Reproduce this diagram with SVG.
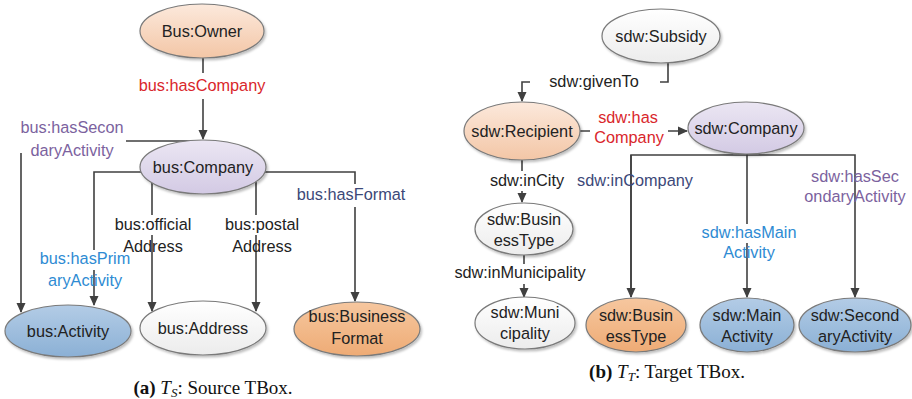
<svg xmlns="http://www.w3.org/2000/svg" width="912" height="399" viewBox="0 0 912 399">
<defs>
<linearGradient id="gPeach" x1="0" y1="0" x2="0" y2="1"><stop offset="0" stop-color="#fce9dc"/><stop offset="1" stop-color="#f3c6a6"/></linearGradient>
<linearGradient id="gLav" x1="0" y1="0" x2="0" y2="1"><stop offset="0" stop-color="#ebe6f3"/><stop offset="1" stop-color="#d3cae4"/></linearGradient>
<linearGradient id="gBlue" x1="0" y1="0" x2="0" y2="1"><stop offset="0" stop-color="#b3cce6"/><stop offset="1" stop-color="#8bb0d5"/></linearGradient>
<linearGradient id="gOrange" x1="0" y1="0" x2="0" y2="1"><stop offset="0" stop-color="#f6c79f"/><stop offset="1" stop-color="#eeab75"/></linearGradient>
<linearGradient id="gWhite" x1="0" y1="0" x2="0" y2="1"><stop offset="0" stop-color="#ffffff"/><stop offset="1" stop-color="#ececec"/></linearGradient>
<filter id="sh" x="-10%" y="-10%" width="125%" height="130%"><feDropShadow dx="1.5" dy="2" stdDeviation="1.2" flood-color="#000" flood-opacity="0.25"/></filter>
<marker id="arr" markerWidth="10" markerHeight="10" refX="9" refY="5" orient="auto" markerUnits="userSpaceOnUse"><path d="M0,0.5 L10,5 L0,9.5 Z" fill="#404040"/></marker>
<style>
.node ellipse{stroke:#7a7a7a;stroke-width:1.2;filter:url(#sh)}
.nt{font-family:"Liberation Sans",Arial,sans-serif;font-size:16.3px;text-anchor:middle;fill:#222}
.lbl{font-family:"Liberation Sans",Arial,sans-serif;font-size:16.3px;text-anchor:middle}
.k{fill:#222}.red{fill:#d9262b}.pur{fill:#7b629e}.blu{fill:#2e8bd3}.dbl{fill:#3c4878}
.c path{fill:none;stroke:#404040;stroke-width:1.6}
.bg{fill:#fff}
.cap{font-family:"Liberation Serif","Times New Roman",serif;font-size:19px;text-anchor:middle;fill:#111}
</style>
</defs>
<rect width="912" height="399" fill="#fff"/>

<g class="c" id="connectors">
<path d="M203,58 V139" marker-end="url(#arr)"/>
<path d="M190,141 H21 V312" marker-end="url(#arr)"/>
<path d="M141,172 H94 V305" marker-end="url(#arr)"/>
<path d="M152,183 V311" marker-end="url(#arr)"/>
<path d="M256,182 V311" marker-end="url(#arr)"/>
<path d="M265,172 H355 V301" marker-end="url(#arr)"/>
<path d="M668,63 V82 H522 V101" marker-end="url(#arr)"/>
<path d="M580,131 H687" marker-end="url(#arr)"/>
<path d="M522,160 V202" marker-end="url(#arr)"/>
<path d="M524,255 V297" marker-end="url(#arr)"/>
<path d="M747,154 V155"/>
<path d="M631,297 V155 H855 V297" marker-end="url(#arr)"/>
<path d="M747,155 V297" marker-end="url(#arr)"/>
<path d="M631,155 V297" marker-end="url(#arr)"/>
</g>

<g id="labels">
<rect class="bg" x="134" y="73" width="136" height="26"/>
<text class="lbl red" x="202" y="91">bus:hasCompany</text>
<rect class="bg" x="16" y="117" width="110" height="36"/>
<text class="lbl pur" x="72" y="133">bus:hasSecon</text>
<text class="lbl pur" x="72" y="156">daryActivity</text>
<rect class="bg" x="36" y="250" width="98" height="20"/>
<text class="lbl blu" x="85" y="264">bus:hasPrim</text>
<text class="lbl blu" x="85" y="286">aryActivity</text>
<rect class="bg" x="109" y="215" width="88" height="20"/>
<text class="lbl k" x="153" y="230">bus:official</text>
<text class="lbl k" x="153" y="252">Address</text>
<rect class="bg" x="221" y="215" width="83" height="20"/>
<text class="lbl k" x="262" y="230">bus:postal</text>
<text class="lbl k" x="262" y="252">Address</text>
<rect class="bg" x="293" y="184" width="117" height="23"/>
<text class="lbl dbl" x="351" y="200">bus:hasFormat</text>

<rect class="bg" x="530" y="72" width="130" height="20"/>
<text class="lbl k" x="594" y="87">sdw:givenTo</text>
<rect class="bg" x="590" y="108" width="78" height="42"/>
<text class="lbl red" x="628" y="123">sdw:has</text>
<text class="lbl red" x="629" y="143">Company</text>
<rect class="bg" x="486" y="171" width="82" height="20"/>
<text class="lbl k" x="527" y="186">sdw:inCity</text>
<text class="lbl dbl" x="635" y="186">sdw:inCompany</text>
<rect class="bg" x="700" y="224" width="99" height="19"/>
<text class="lbl blu" x="749" y="238">sdw:hasMain</text>
<text class="lbl blu" x="749" y="258">Activity</text>
<text class="lbl pur" x="855" y="182">sdw:hasSec</text>
<text class="lbl pur" x="855" y="202">ondaryActivity</text>
<rect class="bg" x="450" y="264" width="140" height="20"/>
<text class="lbl k" x="520" y="278">sdw:inMunicipality</text>
</g>

<g class="node" id="busOwner"><ellipse cx="202" cy="31" rx="62" ry="27" fill="url(#gPeach)"/><text class="nt" x="202" y="37">Bus:Owner</text></g>
<g class="node" id="busCompany"><ellipse cx="203" cy="167" rx="63" ry="27" fill="url(#gLav)"/><text class="nt" x="203" y="173">bus:Company</text></g>
<g class="node" id="busActivity"><ellipse cx="68" cy="331" rx="63" ry="26" fill="url(#gBlue)"/><text class="nt" x="68" y="337">bus:Activity</text></g>
<g class="node" id="busAddress"><ellipse cx="203" cy="328" rx="63" ry="27" fill="url(#gWhite)"/><text class="nt" x="203" y="334">bus:Address</text></g>
<g class="node" id="busBusinessFormat"><ellipse cx="357" cy="329" rx="63" ry="27" fill="url(#gOrange)"/><text class="nt" x="357" y="322">bus:Business</text><text class="nt" x="357" y="344">Format</text></g>

<g class="node" id="sdwSubsidy"><ellipse cx="661" cy="36" rx="59" ry="27" fill="url(#gWhite)"/><text class="nt" x="661" y="42">sdw:Subsidy</text></g>
<g class="node" id="sdwRecipient"><ellipse cx="522" cy="131" rx="58" ry="29" fill="url(#gPeach)"/><text class="nt" x="522" y="137">sdw:Recipient</text></g>
<g class="node" id="sdwCompany"><ellipse cx="746" cy="128" rx="58" ry="26" fill="url(#gLav)"/><text class="nt" x="746" y="134">sdw:Company</text></g>
<g class="node" id="sdwBusinessType1"><ellipse cx="524" cy="229" rx="49" ry="26" fill="url(#gWhite)"/><text class="nt" x="524" y="225">sdw:Busin</text><text class="nt" x="524" y="246">essType</text></g>
<g class="node" id="sdwMunicipality"><ellipse cx="525" cy="323" rx="50" ry="26" fill="url(#gWhite)"/><text class="nt" x="525" y="318">sdw:Muni</text><text class="nt" x="525" y="339">cipality</text></g>
<g class="node" id="sdwBusinessType2"><ellipse cx="636" cy="325" rx="50" ry="27" fill="url(#gOrange)"/><text class="nt" x="636" y="321">sdw:Busin</text><text class="nt" x="636" y="342">essType</text></g>
<g class="node" id="sdwMainActivity"><ellipse cx="747" cy="325" rx="47" ry="27" fill="url(#gBlue)"/><text class="nt" x="747" y="321">sdw:Main</text><text class="nt" x="747" y="342">Activity</text></g>
<g class="node" id="sdwSecondaryActivity"><ellipse cx="855" cy="325" rx="56" ry="27" fill="url(#gBlue)"/><text class="nt" x="855" y="321">sdw:Second</text><text class="nt" x="855" y="342">aryActivity</text></g>

<g id="captions">
<text class="cap" x="213" y="394"><tspan font-weight="bold">(a)</tspan> <tspan font-style="italic">T</tspan><tspan font-style="italic" font-size="13" dy="3">S</tspan><tspan dy="-3">: Source TBox.</tspan></text>
<text class="cap" x="667" y="378"><tspan font-weight="bold">(b)</tspan> <tspan font-style="italic">T</tspan><tspan font-style="italic" font-size="13" dy="3">T</tspan><tspan dy="-3">: Target TBox.</tspan></text>
</g>
</svg>
